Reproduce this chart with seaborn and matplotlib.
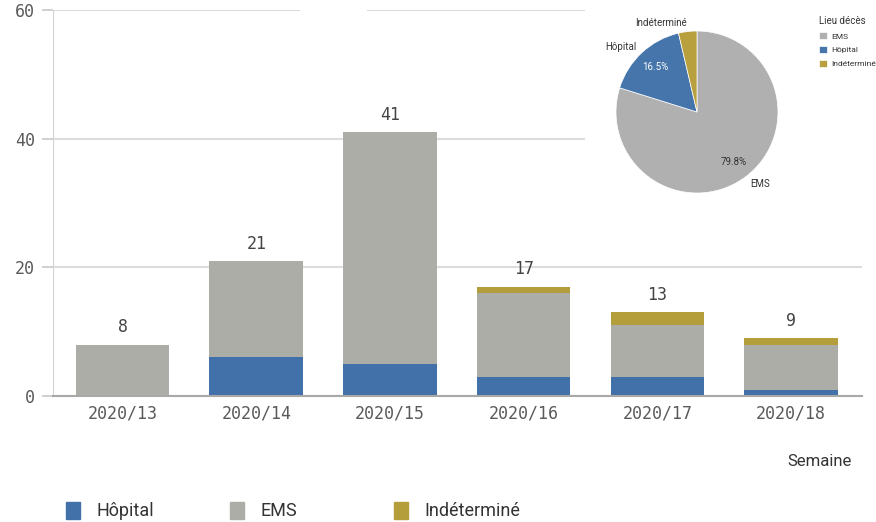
import matplotlib
matplotlib.use("Agg")
import matplotlib.pyplot as plt
import seaborn as sns
import pandas as pd
from matplotlib.patches import Patch, Rectangle

# data
weeks = ['2020/13', '2020/14', '2020/15', '2020/16', '2020/17', '2020/18']
hopital = [0, 6, 5, 3, 3, 1]
ems = [8, 15, 36, 13, 8, 7]
indetermine = [0, 0, 0, 1, 2, 1]

categories = ['Hôpital', 'EMS', 'Indéterminé']
pie_order = ['EMS', 'Hôpital', 'Indéterminé']
colors = {'Hôpital': '#4171a8', 'EMS': '#adada8', 'Indéterminé': '#b49e3c'}
pie_colors = {'Hôpital': '#4675ab', 'EMS': '#b0b0b0', 'Indéterminé': '#b8a03e'}

df = pd.DataFrame({'Semaine': weeks, 'Hôpital': hopital, 'EMS': ems, 'Indéterminé': indetermine})
df['Total'] = df[categories].sum(axis=1)
df['HopEms'] = df['Hôpital'] + df['EMS']

sns.set_style('white')
plt.rcParams['font.family'] = ['Roboto', 'DejaVu Sans']

W, H = 876, 522
fig = plt.figure(figsize=(W / 100, H / 100), dpi=100)
ax = fig.add_axes([53 / W, 1 - 396 / H, (862 - 53) / W, 386 / H])

# stacked bars by overlaying cumulative heights
bar_kw = dict(data=df, x='Semaine', saturation=1, width=0.7, ax=ax, edgecolor='none', linewidth=0)
sns.barplot(y='Total', color=colors['Indéterminé'], **bar_kw)
sns.barplot(y='HopEms', color=colors['EMS'], **bar_kw)
sns.barplot(y='Hôpital', color=colors['Hôpital'], **bar_kw)

ax.bar_label(ax.containers[0], labels=[str(v) for v in df['Total']], padding=6,
             fontfamily='DejaVu Sans Mono', fontsize=12, color='#444444')

ax.set_ylim(0, 60)
ax.set_yticks([0, 20, 40, 60])
ax.set_xlim(-0.52, 5.53)
ax.set_xlabel('')
ax.set_ylabel('')
ax.yaxis.grid(True, color='#dcdcdc', linewidth=1.5)
ax.set_axisbelow(True)
for s in ['top', 'right']:
    ax.spines[s].set_visible(False)
ax.spines['left'].set_color('#d4d4d4')
ax.spines['bottom'].set_color('#a8a8a8')
ax.spines['bottom'].set_linewidth(1.5)
ax.tick_params(axis='y', length=8, width=1.2, color='#c8c8c8', pad=5, left=True)
ax.tick_params(axis='x', length=0, pad=6)
for lbl in ax.get_xticklabels() + ax.get_yticklabels():
    lbl.set_fontfamily('DejaVu Sans Mono')
    lbl.set_fontsize(12)
    lbl.set_color('#5a5a5a')

# small gap in the top gridline, as in the reference
fig.patches.append(Rectangle((300 / W, 1 - 16 / H), 67 / W, 12 / H, transform=fig.transFigure,
                             facecolor='white', edgecolor='none', zorder=5))

fig.text(852 / W, 1 - 462 / H, 'Semaine', ha='right', va='center', fontsize=12, color='#333333')

# bottom legend, fixed column width
for i, cat in enumerate(categories):
    fig.legend(handles=[Patch(color=colors[cat])], labels=[cat], loc='center left',
               bbox_to_anchor=((66 + 164 * i) / W, 1 - 511 / H), frameon=False,
               fontsize=13, handlelength=0.8, handleheight=1.1, handletextpad=0.9,
               borderpad=0, borderaxespad=0, labelcolor='#333333')

# pie inset
pax = fig.add_axes([585 / W, 1 - 205 / H, 291 / W, 205 / H])
pax.set_facecolor('white')
pie_vals = [df[c].sum() for c in pie_order]
wedges, texts, autotexts = pax.pie(
    pie_vals, labels=pie_order, colors=[pie_colors[c] for c in pie_order],
    startangle=90, counterclock=False, labeldistance=1.1, pctdistance=0.76,
    autopct=lambda p: f'{p:.1f}%' if p > 5 else '', frame=True,
    textprops=dict(fontsize=7, color='#333333'),
    wedgeprops=dict(linewidth=0.5, edgecolor='white'))
autotexts[1].set_color('white')
pax.set_xlim(-112 / 81, 179 / 81)
pax.set_ylim(-93 / 81, 112 / 81)
pax.set_aspect('auto')
pax.set_xticks([])
pax.set_yticks([])
for s in pax.spines.values():
    s.set_visible(False)

leg = pax.legend(handles=wedges, labels=pie_order, title='Lieu décès', loc='upper left',
                 bbox_to_anchor=(815 / W, 1 - 12 / H), bbox_transform=fig.transFigure,
                 frameon=False, fontsize=6, title_fontsize=7, handlelength=0.9,
                 handleheight=0.9, handletextpad=0.5, labelspacing=0.75, borderpad=0,
                 labelcolor='#333333')
leg._legend_box.align = 'left'
leg.get_title().set_color('#333333')

fig.savefig('out.png', dpi=100)
